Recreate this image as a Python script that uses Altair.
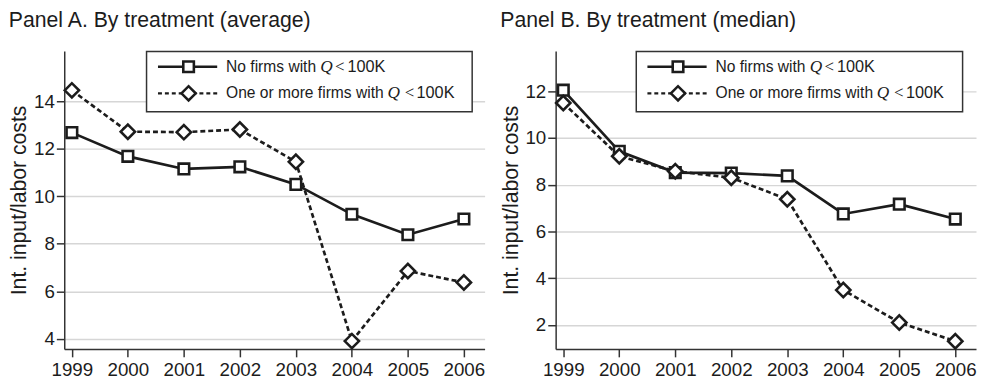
import altair as alt
import pandas as pd

# ---------------- data ----------------
years = [1999, 2000, 2001, 2002, 2003, 2004, 2005, 2006]
series_names = ["No firms with Q < 100K", "One or more firms with Q < 100K"]
a_none = [12.68, 11.68, 11.15, 11.24, 10.50, 9.24, 8.38, 9.04]
a_some = [14.46, 12.72, 12.70, 12.81, 11.45, 3.90, 6.85, 6.37]
b_none = [12.05, 9.43, 8.52, 8.50, 8.38, 6.75, 7.17, 6.53]
b_some = [11.50, 9.22, 8.58, 8.30, 7.38, 3.49, 2.10, 1.30]
panel_titles = ["Panel A. By treatment (average)", "Panel B. By treatment (median)"]
y_title = "Int. input/labor costs"
a_ticks = [4, 6, 8, 10, 12, 14]
b_ticks = [2, 4, 6, 8, 10, 12]
a_domain = [3.57, 16.12]
b_domain = [0.97, 13.73]
x_domain = [1998.864, 2006.37]
legend_prefix = ["No firms with", "One or more firms with"]
legend_q = "Q"
legend_lt = "<"
legend_k = "100K"

# ---------------- style ----------------
INK = "#1c1c1c"
SANS = "Liberation Sans"
SERIF = "Liberation Serif"
W, H = 426, 302


def panel(title, none_vals, some_vals, ydom, yticks, box_x0, box_x1, dx):
    df = pd.DataFrame({
        "year": years * 2,
        "value": none_vals + some_vals,
        "series": [series_names[0]] * len(years) + [series_names[1]] * len(years),
    })
    x = alt.X("year:Q",
              scale=alt.Scale(domain=x_domain, nice=False, zero=False),
              axis=alt.Axis(values=years, format="d", title=None, grid=False,
                            labelPadding=4, labelFlush=False))
    y = alt.Y("value:Q",
              scale=alt.Scale(domain=ydom, nice=False, zero=False),
              axis=alt.Axis(values=yticks, title=y_title, grid=True,
                            titlePadding=3, labelPadding=2))
    base = alt.Chart(df)
    f0 = alt.datum.series == series_names[0]
    f1 = alt.datum.series == series_names[1]
    solid = base.transform_filter(f0).mark_line(color=INK, strokeWidth=2.7).encode(x=x, y=y)
    sq = base.transform_filter(f0).mark_point(
        shape="square", size=115, filled=True, fill="white", stroke=INK,
        strokeWidth=2.6, opacity=1).encode(x=x, y=y)
    dashed = base.transform_filter(f1).mark_line(
        color=INK, strokeWidth=2.7, strokeDash=[5, 3]).encode(x=x, y=y)
    dia = base.transform_filter(f1).mark_point(
        shape="diamond", size=210, filled=True, fill="white", stroke=INK,
        strokeWidth=2.6, opacity=1).encode(x=x, y=y)

    one = alt.Chart(pd.DataFrame({"k": [0]}))
    box = one.mark_rect(fill="white", stroke="#333333", strokeWidth=1.5).encode(
        x=alt.value(box_x0), x2=alt.value(box_x1), y=alt.value(0.5), y2=alt.value(61.7))
    rows = [16, 43]
    layers = [box]
    for i, ry in enumerate(rows):
        seg = one.mark_rule(color=INK, strokeWidth=2.4,
                            strokeDash=[] if i == 0 else [4, 3]).encode(
            x=alt.value(95 + dx), x2=alt.value(155 + dx), y=alt.value(ry))
        mk = one.mark_point(
            shape="square" if i == 0 else "diamond",
            size=115 if i == 0 else 210, filled=True, fill="white", stroke=INK,
            strokeWidth=2.6, opacity=1).encode(x=alt.value(126 + dx), y=alt.value(ry))
        layers += [seg, mk]
    qx = [259.5, 327.5]
    ltx = [274.5, 345]
    kx = [287, 357]
    for i, ry in enumerate(rows):
        layers.append(one.mark_text(text=legend_prefix[i], font=SANS, fontSize=15.8,
                                    color=INK, align="left", baseline="middle").encode(
            x=alt.value(164 + dx), y=alt.value(ry)))
        layers.append(one.mark_text(text=legend_q, font=SERIF, fontStyle="italic",
                                    fontSize=17.5, color=INK, align="left",
                                    baseline="middle").encode(
            x=alt.value(qx[i] + dx), y=alt.value(ry)))
        layers.append(one.mark_text(text=legend_lt, font=SERIF, fontSize=17,
                                    color=INK, align="left", baseline="middle").encode(
            x=alt.value(ltx[i] + dx), y=alt.value(ry)))
        layers.append(one.mark_text(text=legend_k, font=SANS, fontSize=16.5,
                                    color=INK, align="left", baseline="middle").encode(
            x=alt.value(kx[i] + dx), y=alt.value(ry)))

    return alt.layer(solid, dashed, sq, dia, *layers).properties(
        width=W, height=H,
        title=alt.TitleParams(title, anchor="start", font=SANS, fontSize=21.5,
                              fontWeight="normal", color=INK, offset=19),
    )


pa = panel(panel_titles[0], a_none, a_some, a_domain, a_ticks, 83.4, 413.4, 0)
pb = panel(panel_titles[1], b_none, b_some, b_domain, b_ticks, 81.7, 412.4, -2)

chart = alt.hconcat(pa, pb, spacing=14).properties(
    padding={"left": 0, "top": 0, "right": 0, "bottom": 0}
).configure_view(stroke=None).configure_axis(
    domainColor="#333333", domainWidth=1.5, tickColor="#333333", tickWidth=1.5,
    tickSize=8, labelFont=SANS, labelFontSize=19, labelColor=INK,
    titleFont=SANS, titleFontSize=21.5, titleFontWeight="normal", titleColor=INK,
    gridColor="#d6d6d6", gridWidth=1.5,
)

chart.save("out.html", embed_options={"renderer": "svg", "actions": False})
